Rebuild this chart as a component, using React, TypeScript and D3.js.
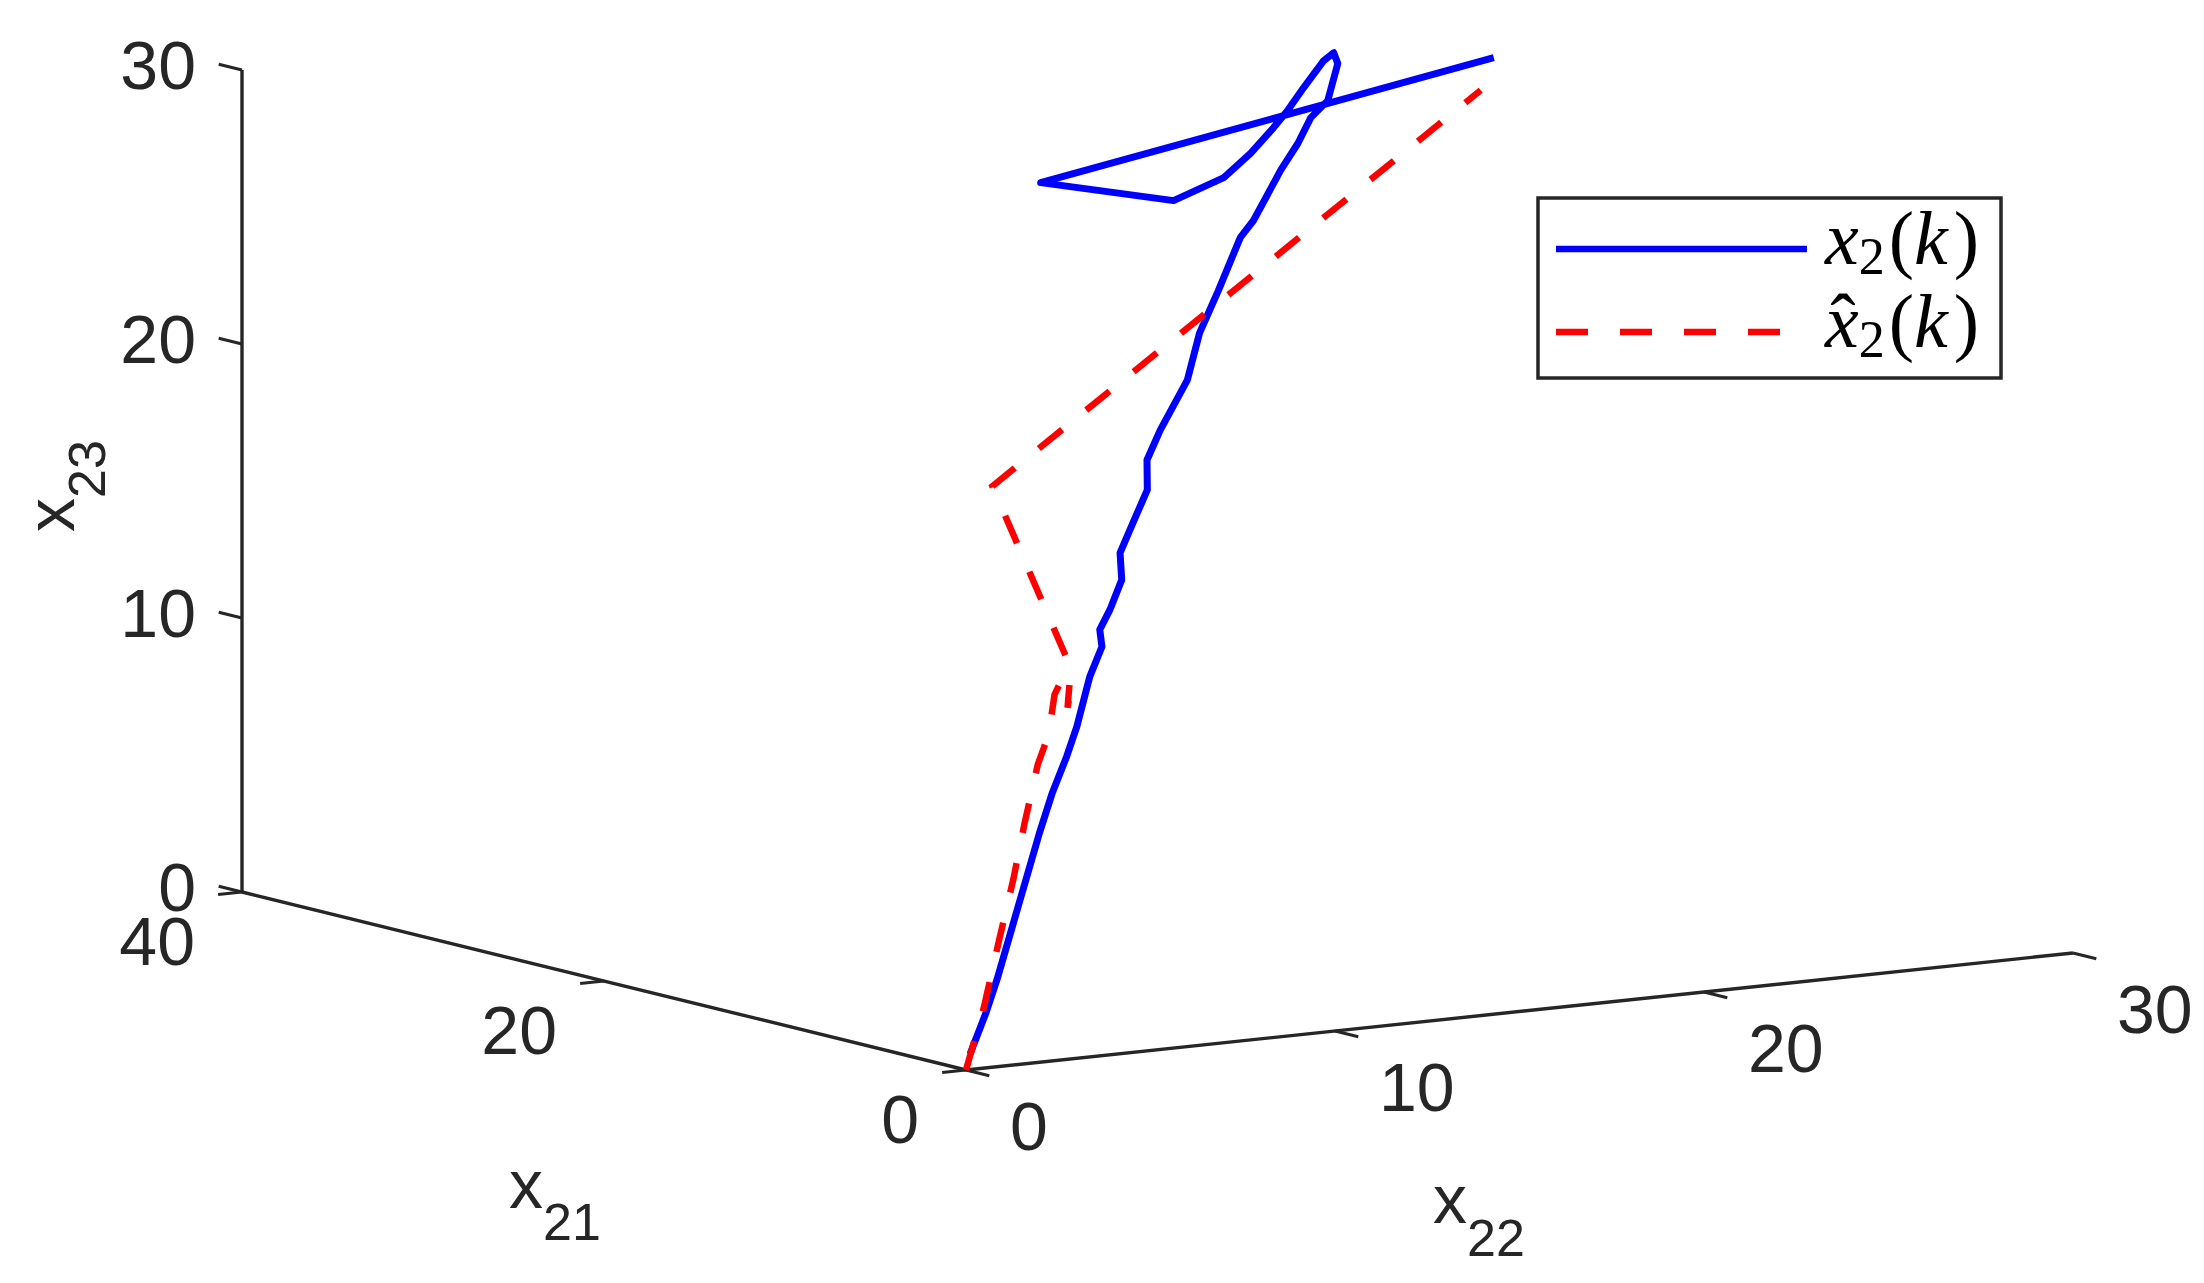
import React, { useEffect, useRef } from 'react';
import * as d3 from 'd3';

const W = 2204;
const H = 1283;

// x2(k), true state (blue solid)
const x2_21 = [0.55, 1.9, 2.99, 7.96, 9.29, 10.44, 11.43, 13.14, 14.1, 14.79, 15.39, 16.35, 17.42, 18.36, 19.4, 20.56, 21.5, 22.98, 24.59, 25.93, 27.61, 28.05, 29.53, 30.29, 31.08, 31.45, 32.71, 33.2, 33.06, 32.35, 31.73, 31.3, 30.68, 30.2, 30.14, 33.02, 30.37];
const x2_22 = [0.38, 1.48, 2.31, 5.9, 6.9, 7.85, 8.61, 9.8, 10.6, 10.88, 11.45, 12.24, 12.72, 13.53, 14.43, 14.99, 15.81, 17.27, 18.39, 19.56, 20.98, 21.55, 23.01, 23.85, 24.59, 25.23, 26.12, 26.25, 25.91, 25.02, 24.28, 23.69, 22.76, 21.8, 20.41, 18.22, 29.2];
const x2_23 = [0.44, 1.59, 2.5, 6.54, 7.64, 8.63, 9.45, 10.83, 11.65, 12.12, 12.67, 13.49, 14.23, 15.06, 15.97, 16.79, 17.61, 18.99, 20.28, 21.46, 22.92, 23.38, 24.76, 25.5, 26.21, 26.68, 27.7, 28.0, 27.78, 27.04, 26.41, 25.94, 25.23, 24.56, 23.93, 24.43, 27.86];

// x̂2(k), estimate (red dashed)
const xh_21 = [0, 2.13, 4.5, 6.58, 8.52, 10.61, 11.58, 13.03, 13.49, 12.96, 12.31, 13.8, 22.11, 29.32];
const xh_22 = [0, 1.53, 3.11, 4.51, 5.76, 7.15, 7.92, 8.79, 9.21, 9.19, 8.79, 9.61, 11.56, 28.33];
const xh_23 = [0, 1.73, 3.6, 5.25, 6.76, 8.41, 9.23, 10.33, 10.74, 10.47, 9.97, 11.07, 16.07, 26.96];

const ticks21 = [0, 20, 40];
const ticks22 = [0, 10, 20, 30];
const ticks23 = [0, 10, 20, 30];

const axisColor = '#262626';
const sans = '"Liberation Sans", Arial, Helvetica, sans-serif';
const serif = '"Liberation Serif", "Times New Roman", serif';

const App: React.FC = () => {
  const svgRef = useRef<SVGSVGElement>(null);

  useEffect(() => {
    document.body.style.margin = '0';
    if (!svgRef.current) return;
    const svg = d3.select(svgRef.current);
    svg.selectAll('*').remove();

    // 3-D view: every axis scale gives a screen offset from the origin corner
    const ox = 966;
    const oy = 1070;
    const s21x = d3.scaleLinear().domain([0, 40]).range([0, -724]);
    const s21y = d3.scaleLinear().domain([0, 40]).range([0, -178]);
    const s22x = d3.scaleLinear().domain([0, 30]).range([0, 1107]);
    const s22y = d3.scaleLinear().domain([0, 30]).range([0, -117]);
    const s23y = d3.scaleLinear().domain([0, 30]).range([0, -822]);

    const proj = (a: number, b: number, c: number): [number, number] => [
      ox + s21x(a) + s22x(b),
      oy + s21y(a) + s22y(b) + s23y(c),
    ];

    const unit = (dx: number, dy: number) => {
      const l = Math.hypot(dx, dy);
      return [dx / l, dy / l];
    };
    const u21 = unit(s21x(1), s21y(1));
    const u22 = unit(s22x(1), s22y(1));
    const tickLen = 24;

    const g = svg.append('g');

    // axis lines
    const axes: [number, number, number][][] = [
      [[0, 0, 0], [40, 0, 0]],
      [[0, 0, 0], [0, 30, 0]],
      [[40, 0, 0], [40, 0, 30]],
    ];
    axes.forEach(([p0, p1]) => {
      const a = proj(p0[0], p0[1], p0[2]);
      const b = proj(p1[0], p1[1], p1[2]);
      g.append('line')
        .attr('x1', a[0]).attr('y1', a[1])
        .attr('x2', b[0]).attr('y2', b[1])
        .attr('stroke', axisColor)
        .attr('stroke-width', 3.4);
    });

    // x21 ticks + labels
    ticks21.forEach(v => {
      const p = proj(v, 0, 0);
      g.append('line')
        .attr('x1', p[0]).attr('y1', p[1])
        .attr('x2', p[0] - u22[0] * tickLen).attr('y2', p[1] - u22[1] * tickLen)
        .attr('stroke', axisColor).attr('stroke-width', 3);
      g.append('text')
        .attr('x', p[0] - 47).attr('y', p[1] + 73)
        .attr('text-anchor', 'end')
        .attr('font-family', sans).attr('font-size', 68)
        .attr('fill', axisColor)
        .text(v);
    });

    // x22 ticks + labels
    ticks22.forEach(v => {
      const p = proj(0, v, 0);
      g.append('line')
        .attr('x1', p[0]).attr('y1', p[1])
        .attr('x2', p[0] - u21[0] * tickLen).attr('y2', p[1] - u21[1] * tickLen)
        .attr('stroke', axisColor).attr('stroke-width', 3);
      g.append('text')
        .attr('x', p[0] + 44).attr('y', p[1] + 80)
        .attr('text-anchor', 'start')
        .attr('font-family', sans).attr('font-size', 68)
        .attr('fill', axisColor)
        .text(v);
    });

    // x23 ticks + labels
    ticks23.forEach(v => {
      const p = proj(40, 0, v);
      g.append('line')
        .attr('x1', p[0]).attr('y1', p[1])
        .attr('x2', p[0] + u21[0] * tickLen).attr('y2', p[1] + u21[1] * tickLen)
        .attr('stroke', axisColor).attr('stroke-width', 3);
      g.append('text')
        .attr('x', p[0] - 46).attr('y', p[1] + 19)
        .attr('text-anchor', 'end')
        .attr('font-family', sans).attr('font-size', 68)
        .attr('fill', axisColor)
        .text(v);
    });

    // axis labels
    const lab21 = g.append('text')
      .attr('x', 509).attr('y', 1208)
      .attr('font-family', sans).attr('font-size', 68).attr('fill', axisColor);
    lab21.append('tspan').text('x');
    lab21.append('tspan').attr('dy', 32).attr('font-size', 52).text('21');

    const lab22 = g.append('text')
      .attr('x', 1433).attr('y', 1223)
      .attr('font-family', sans).attr('font-size', 68).attr('fill', axisColor);
    lab22.append('tspan').text('x');
    lab22.append('tspan').attr('dy', 33).attr('font-size', 52).text('22');

    const lab23 = g.append('text')
      .attr('transform', 'translate(74,532) rotate(-90)')
      .attr('font-family', sans).attr('font-size', 68).attr('fill', axisColor);
    lab23.append('tspan').text('x');
    lab23.append('tspan').attr('dy', 31).attr('font-size', 52).text('23');

    // trajectories
    const line = d3.line<[number, number]>().x(d => d[0]).y(d => d[1]);
    const truePts = x2_21.map((a, i) => proj(a, x2_22[i], x2_23[i]));
    const estPts = xh_21.map((a, i) => proj(a, xh_22[i], xh_23[i]));

    g.append('path')
      .attr('d', line(truePts))
      .attr('fill', 'none')
      .attr('stroke', '#0000ff')
      .attr('stroke-width', 7)
      .attr('stroke-linejoin', 'round');

    g.append('path')
      .attr('d', line(estPts))
      .attr('fill', 'none')
      .attr('stroke', '#ff0000')
      .attr('stroke-width', 6.5)
      .attr('stroke-dasharray', '30 31');

    // legend
    const lg = g.append('g');
    lg.append('rect')
      .attr('x', 1538).attr('y', 198)
      .attr('width', 463).attr('height', 180)
      .attr('fill', 'white')
      .attr('stroke', axisColor)
      .attr('stroke-width', 3.5);

    const items = [
      { color: '#0000ff', dash: null, hat: false, y: 249 },
      { color: '#ff0000', dash: '32 32', hat: true, y: 332 },
    ];
    items.forEach(it => {
      const l = lg.append('line')
        .attr('x1', 1556).attr('x2', 1807)
        .attr('y1', it.y).attr('y2', it.y)
        .attr('stroke', it.color)
        .attr('stroke-width', 6.5);
      if (it.dash) l.attr('stroke-dasharray', it.dash);

      const base = it.y + 15;
      const t = lg.append('text')
        .attr('x', 1825).attr('y', base)
        .attr('font-family', serif).attr('font-size', 76).attr('fill', '#000');
      t.append('tspan').attr('font-style', 'italic').text('x');
      t.append('tspan').attr('font-size', 52).attr('dy', 10).text('2');
      t.append('tspan').attr('dy', -10).attr('dx', 4).text('(');
      t.append('tspan').attr('font-style', 'italic').text('k');
      t.append('tspan').attr('dx', 6).text(')');
      if (it.hat) {
        lg.append('text')
          .attr('x', 1843).attr('y', base)
          .attr('text-anchor', 'middle')
          .attr('font-family', serif).attr('font-size', 76).attr('fill', '#000')
          .text('\u02C6');
      }
    });
  }, []);

  return <svg ref={svgRef} width={W} height={H} style={{ display: 'block', background: '#fff' }} />;
};

export default App;
